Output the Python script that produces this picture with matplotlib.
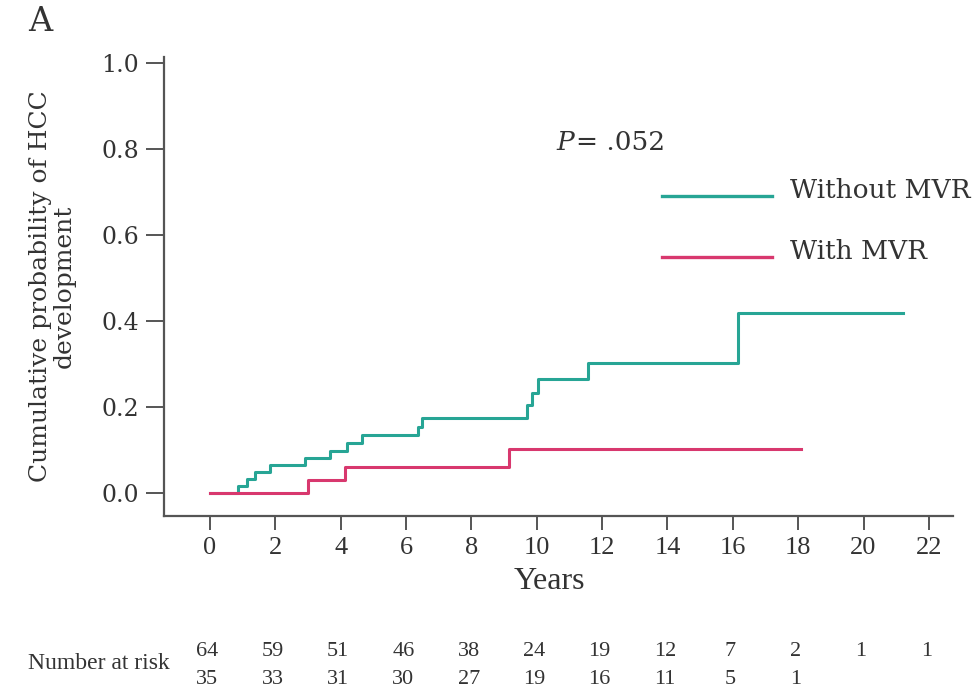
import matplotlib
matplotlib.use('Agg')
import matplotlib.pyplot as plt

plt.rcParams['font.family'] = ['Liberation Serif', 'DejaVu Serif']

# Kaplan-Meier style step data (years, cumulative probability)
without_t = [0, 0.86, 1.13, 1.38, 1.83, 2.9, 3.67, 4.19, 4.65, 6.36, 6.5, 9.69, 9.85, 10.04, 11.57, 16.17, 21.2]
without_p = [0, 0.016, 0.033, 0.05, 0.066, 0.082, 0.099, 0.117, 0.135, 0.155, 0.176, 0.204, 0.232, 0.265, 0.302, 0.42, 0.42]
with_t = [0, 3.0, 4.13, 9.14, 18.1]
with_p = [0, 0.03, 0.06, 0.103, 0.103]

risk_times = [0, 2, 4, 6, 8, 10, 12, 14, 16, 18, 20, 22]
risk_without = [64, 59, 51, 46, 38, 24, 19, 12, 7, 2, 1, 1]
risk_with = [35, 33, 31, 30, 27, 19, 16, 11, 5, 1]

green = '#27a595'
pink = '#d8386e'
axcol = '#555555'
txt = '#333333'
wide = 'DejaVu Serif'

fig = plt.figure(figsize=(9.79, 6.93), dpi=100)
ax = fig.add_axes([0.1675, 0.2554, 0.806, 0.6623])

ax.step(without_t, without_p, where='post', color=green, lw=2.2)
ax.step(with_t, with_p, where='post', color=pink, lw=2.2)

ax.set_xlim(-1.41, 22.74)
ax.set_ylim(-0.053, 1.014)
ax.set_xticks(risk_times)
ax.set_yticks([0, 0.2, 0.4, 0.6, 0.8, 1.0])
ax.set_yticklabels(['0.0', '0.2', '0.4', '0.6', '0.8', '1.0'], family=wide)

for s in ['top', 'right']:
    ax.spines[s].set_visible(False)
for s in ['left', 'bottom']:
    ax.spines[s].set_color(axcol)
    ax.spines[s].set_linewidth(1.6)
ax.tick_params(axis='y', length=13, width=1.4, color=axcol, labelsize=17, labelcolor=txt, pad=5)
ax.tick_params(axis='x', length=10, width=1.4, color=axcol, labelsize=19, labelcolor=txt, pad=5)

ax.set_xlabel('Years', fontsize=23, color=txt)
ax.xaxis.set_label_coords(0.489, -0.112)
ax.set_ylabel('Cumulative probability of HCC\ndevelopment', fontsize=18, color=txt,
              linespacing=1.05, family=wide)
ax.yaxis.set_label_coords(-0.112, 0.5)

fig.text(0.029, 0.968, 'A', fontsize=24, color=txt, ha='left', va='center', family=wide)

ax.text(0.497, 0.813, 'P', transform=ax.transAxes, fontsize=19, color=txt,
        ha='left', va='center', fontstyle='italic', family=wide)
ax.text(0.522, 0.813, '= .052', transform=ax.transAxes, fontsize=19, color=txt,
        ha='left', va='center', family=wide)

# legend drawn by hand to match layout
ax.plot([0.631, 0.77], [0.698, 0.698], transform=ax.transAxes, color=green, lw=2.4, clip_on=False)
ax.plot([0.631, 0.77], [0.565, 0.565], transform=ax.transAxes, color=pink, lw=2.4, clip_on=False)
ax.text(0.793, 0.71, 'Without MVR', transform=ax.transAxes, fontsize=19, color=txt,
        ha='left', va='center', family=wide)
ax.text(0.793, 0.576, 'With MVR', transform=ax.transAxes, fontsize=19, color=txt,
        ha='left', va='center', family=wide)

# number at risk table
tr = ax.get_xaxis_transform()
ax.text(-1.22, -0.322, 'Number at risk', transform=tr, fontsize=17, color=txt,
        ha='right', va='center', clip_on=False)
for t, n in zip(risk_times, risk_without):
    ax.text(t - 0.08, -0.296, str(n), transform=tr, fontsize=16, color=txt,
            ha='center', va='center', clip_on=False)
for t, n in zip(risk_times, risk_with):
    ax.text(t - 0.08, -0.357, str(n), transform=tr, fontsize=16, color=txt,
            ha='center', va='center', clip_on=False)

fig.savefig('out.png', dpi=100)
